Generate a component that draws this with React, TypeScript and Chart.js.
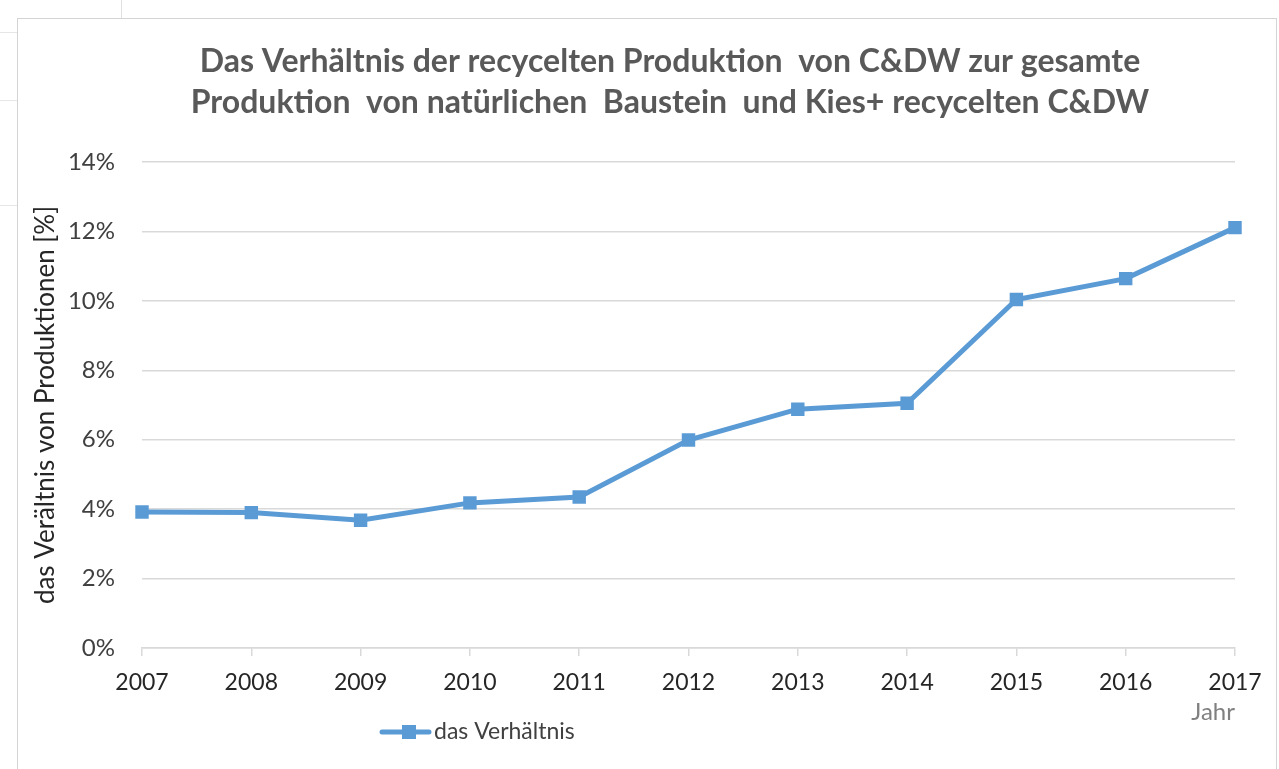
import React, { useEffect, useRef } from "react";
import { Chart, registerables } from "chart.js";

Chart.register(...registerables);

const years = ["2007", "2008", "2009", "2010", "2011", "2012", "2013", "2014", "2015", "2016", "2017"];
const ratioPercent = [3.92, 3.9, 3.68, 4.18, 4.35, 5.99, 6.88, 7.05, 10.04, 10.64, 12.11];
const titleLines = [
  "Das Verhältnis der recycelten Produktion  von C&DW zur gesamte",
  "Produktion  von natürlichen  Baustein  und Kies+ recycelten C&DW",
];
const seriesName = "das Verhältnis";
const yAxisTitle = "das Verältnis von Produktionen [%]";
const xAxisTitle = "Jahr";
const yMin = 0;
const yMax = 14;
const yStep = 2;

const FONT = "Lato, 'Open Sans', sans-serif";
const LINE_COLOR = "#5B9BD5";

const titleAndLegendPlugin = {
  id: "titleAndLegend",
  afterDraw(chart: any) {
    const ctx = chart.ctx;
    const ds = chart.data.datasets[0];
    ctx.save();
    // title
    ctx.fillStyle = "#595959";
    ctx.font = `bold 32px ${FONT}`;
    ctx.textAlign = "center";
    ctx.textBaseline = "middle";
    titleLines.forEach((t, i) => ctx.fillText(t, 670, 62 + i * 41));
    // legend
    const y = 732;
    ctx.strokeStyle = ds.borderColor;
    ctx.lineWidth = 5;
    ctx.lineCap = "round";
    ctx.beginPath();
    ctx.moveTo(382, y);
    ctx.lineTo(429, y);
    ctx.stroke();
    ctx.fillStyle = ds.backgroundColor;
    ctx.fillRect(409 - 7, y - 7, 14, 14);
    ctx.fillStyle = "#404040";
    ctx.font = `23px ${FONT}`;
    ctx.textAlign = "left";
    ctx.fillText(ds.label, 434, y);
    ctx.restore();
  },
};

export default function App() {
  const canvasRef = useRef<HTMLCanvasElement | null>(null);

  useEffect(() => {
    document.body.style.margin = "0";
    const canvas = canvasRef.current;
    if (!canvas) return;
    const chart = new Chart(canvas, {
      type: "line",
      data: {
        labels: years,
        datasets: [
          {
            label: seriesName,
            data: ratioPercent,
            borderColor: LINE_COLOR,
            backgroundColor: LINE_COLOR,
            borderWidth: 5,
            pointStyle: "rect",
            pointRadius: 9.5,
            pointBackgroundColor: LINE_COLOR,
            pointBorderColor: LINE_COLOR,
            pointBorderWidth: 0,
            tension: 0,
          },
        ],
      },
      options: {
        responsive: false,
        animation: false,
        devicePixelRatio: 1,
        layout: { padding: { left: 29, right: 44, top: 162, bottom: 0 } },
        plugins: {
          legend: { display: false },
          tooltip: { enabled: false },
          title: { display: false },
        },
        scales: {
          x: {
            type: "category",
            offset: false,
            grid: {
              drawOnChartArea: false,
              drawTicks: true,
              tickLength: 8,
              color: "#d9d9d9",
              lineWidth: 1.5,
            },
            border: { display: true, color: "#d9d9d9", width: 1.5 },
            ticks: {
              color: "#262626",
              font: { family: FONT, size: 23 },
              padding: 13,
              maxRotation: 0,
              autoSkip: false,
            },
            title: {
              display: true,
              text: xAxisTitle,
              align: "end",
              color: "#808080",
              font: { family: FONT, size: 24 },
              padding: { top: 0, bottom: 42 },
            },
            afterFit: (s: any) => {
              s.height = 121;
            },
          },
          y: {
            min: yMin,
            max: yMax,
            grid: { drawTicks: false, color: "#d9d9d9", lineWidth: 1.5 },
            border: { display: false },
            ticks: {
              stepSize: yStep,
              color: "#404040",
              font: { family: FONT, size: 24 },
              padding: 27,
              callback: (v: any) => `${v}%`,
            },
            title: {
              display: true,
              text: yAxisTitle,
              color: "#262626",
              font: { family: FONT, size: 26 },
              padding: { top: 1, bottom: 0 },
            },
            afterFit: (s: any) => {
              s.width = 113;
            },
          },
        },
      },
      plugins: [titleAndLegendPlugin],
    });
    return () => chart.destroy();
  }, []);

  const line = (style: React.CSSProperties) => (
    <div style={{ position: "absolute", background: "#d4d4d4", ...style }} />
  );

  return (
    <div style={{ position: "relative", width: 1279, height: 769, background: "#ffffff", overflow: "hidden" }}>
      {line({ left: 121, top: 0, width: 1, height: 18, background: "#e0e0e0" })}
      {line({ left: 0, top: 32, width: 17, height: 1, background: "#e6e6e6" })}
      {line({ left: 0, top: 100, width: 17, height: 1, background: "#e6e6e6" })}
      {line({ left: 0, top: 205, width: 17, height: 1, background: "#e6e6e6" })}
      {line({ left: 17, top: 18, width: 1, height: 751 })}
      {line({ left: 17, top: 18, width: 1260, height: 1 })}
      {line({ left: 1276, top: 18, width: 1, height: 751 })}
      <canvas ref={canvasRef} width={1279} height={769} style={{ position: "absolute", left: 0, top: 0, width: 1279, height: 769 }} />
    </div>
  );
}
